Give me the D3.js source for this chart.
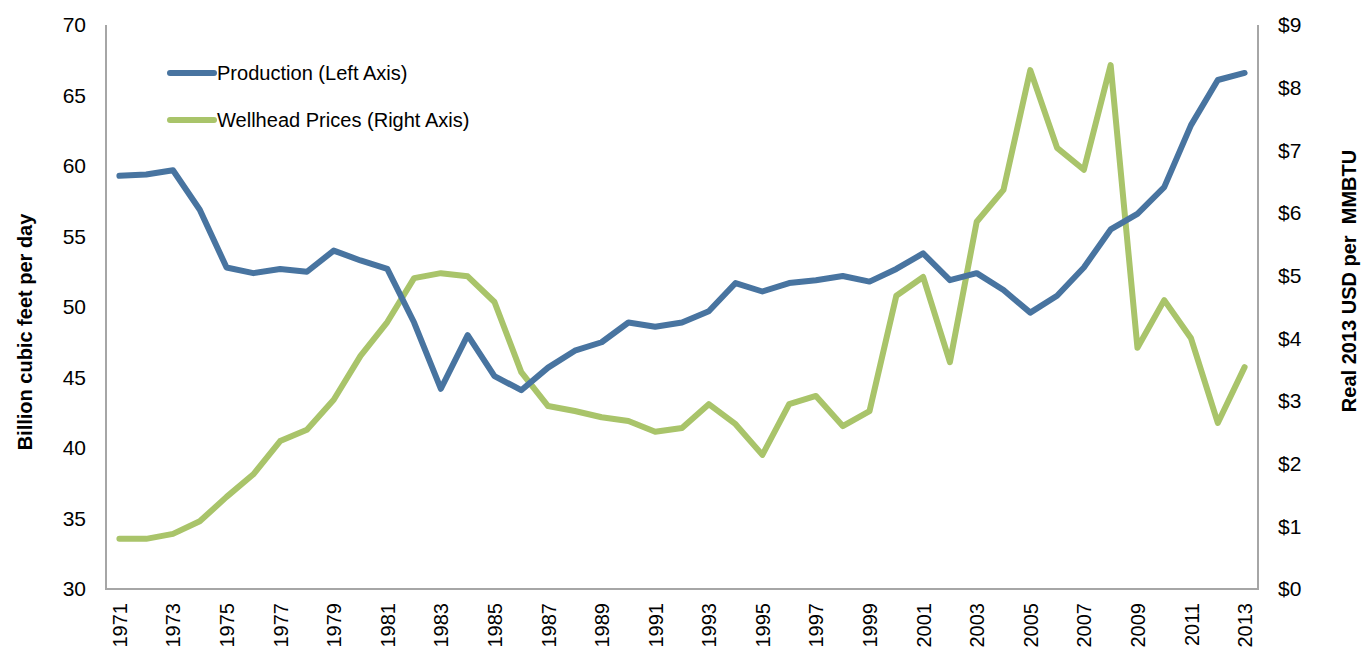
<!DOCTYPE html>
<html>
<head>
<meta charset="utf-8">
<script src="https://cdn.jsdelivr.net/npm/d3@7"></script>
<style>
  body { margin: 0; background: #fff; }
  text { font-family: "Liberation Sans Narrow", "Arial Narrow", "Liberation Sans", Arial, sans-serif; fill: #000; }
</style>
</head>
<body>
<svg id="chart"></svg>
<script>
var years = d3.range(1971, 2014);

var production = [59.3, 59.4, 59.7, 56.9, 52.8, 52.4, 52.7, 52.5, 54.0, 53.3,
                  52.7, 48.9, 44.2, 48.0, 45.1, 44.1, 45.7, 46.9, 47.5, 48.9,
                  48.6, 48.9, 49.7, 51.7, 51.1, 51.7, 51.9, 52.2, 51.8, 52.7,
                  53.8, 51.9, 52.4, 51.2, 49.6, 50.8, 52.8, 55.5, 56.6, 58.5,
                  62.9, 66.1, 66.6];

var prices = [0.80, 0.80, 0.88, 1.08, 1.47, 1.83, 2.36, 2.54, 3.02, 3.72,
              4.26, 4.96, 5.04, 4.99, 4.58, 3.46, 2.92, 2.84, 2.74, 2.68,
              2.51, 2.57, 2.95, 2.63, 2.14, 2.95, 3.08, 2.60, 2.84, 4.68,
              4.98, 3.62, 5.86, 6.37, 8.28, 7.04, 6.69, 8.36, 3.85, 4.61,
              4.00, 2.65, 3.54];

var leftTicks = [30, 35, 40, 45, 50, 55, 60, 65, 70];
var rightTicks = [0, 1, 2, 3, 4, 5, 6, 7, 8, 9];
var yearLabels = years.filter(function(d){ return (d - 1971) % 2 === 0; });

var seriesNames = ['Production (Left Axis)', 'Wellhead Prices (Right Axis)'];
var colors = ['#4874a0', '#a9c46a'];

var width = 1369, height = 648;
var margin = {left: 106, right: 111, top: 25, bottom: 59};
var plotW = width - margin.left - margin.right,
    plotH = height - margin.top - margin.bottom;

var svg = d3.select('#chart')
    .attr('width', width)
    .attr('height', height);

var g = svg.append('g')
    .attr('transform', 'translate(' + margin.left + ',' + margin.top + ')');

var x = d3.scalePoint()
    .domain(years)
    .range([0, plotW])
    .padding(0.5);

var yLeft = d3.scaleLinear().domain([30, 70]).range([plotH, 0]);
var yRight = d3.scaleLinear().domain([0, 9]).range([plotH, 0]);

// axes frame (left, bottom, right) in grey
g.append('path')
    .attr('d', 'M0,0V' + plotH + 'H' + plotW + 'V0')
    .attr('fill', 'none')
    .attr('stroke', '#a6a6a6')
    .attr('stroke-width', 2);

var leftAxis = g.append('g')
    .call(d3.axisLeft(yLeft).tickValues(leftTicks).tickSize(0).tickPadding(20));
leftAxis.select('.domain').remove();
leftAxis.selectAll('text').style('font-size', '21px');

var rightAxis = g.append('g')
    .attr('transform', 'translate(' + plotW + ',0)')
    .call(d3.axisRight(yRight).tickValues(rightTicks).tickSize(0).tickPadding(20)
        .tickFormat(function(d){ return '$' + d; }));
rightAxis.select('.domain').remove();
rightAxis.selectAll('text').style('font-size', '21px');

var bottomAxis = g.append('g')
    .attr('transform', 'translate(0,' + plotH + ')')
    .call(d3.axisBottom(x).tickValues(yearLabels).tickSize(0).tickPadding(0));
bottomAxis.select('.domain').remove();
bottomAxis.selectAll('text')
    .style('font-size', '20px')
    .attr('text-anchor', 'end')
    .attr('transform', 'rotate(-90)')
    .attr('x', -14)
    .attr('y', 0)
    .attr('dy', '0.35em');

// axis titles
svg.append('text')
    .attr('transform', 'translate(32,332) rotate(-90)')
    .attr('text-anchor', 'middle')
    .style('font-size', '20px')
    .style('font-weight', 'bold')
    .text('Billion cubic feet per day');

svg.append('text')
    .attr('transform', 'translate(1356,' + (margin.top + plotH / 2 - 26) + ') rotate(-90)')
    .attr('text-anchor', 'middle')
    .style('font-size', '20px')
    .style('font-weight', 'bold')
    .style('white-space', 'pre')
    .text('Real 2013 USD per  MMBTU');

// lines
var prodLine = d3.line()
    .x(function(d, i){ return x(years[i]); })
    .y(function(d){ return yLeft(d); });

var priceLine = d3.line()
    .x(function(d, i){ return x(years[i]); })
    .y(function(d){ return yRight(d); });

g.append('path')
    .datum(prices)
    .attr('d', priceLine)
    .attr('fill', 'none')
    .attr('stroke', colors[1])
    .attr('stroke-width', 6)
    .attr('stroke-linejoin', 'round')
    .attr('stroke-linecap', 'round');

g.append('path')
    .datum(production)
    .attr('d', prodLine)
    .attr('fill', 'none')
    .attr('stroke', colors[0])
    .attr('stroke-width', 6)
    .attr('stroke-linejoin', 'round')
    .attr('stroke-linecap', 'round');

// legend
var legend = svg.append('g').attr('transform', 'translate(170,73)');
var item = legend.selectAll('g')
    .data(seriesNames)
    .enter().append('g')
    .attr('transform', function(d, i){ return 'translate(0,' + (i * 47) + ')'; });

item.append('line')
    .attr('x1', 0).attr('x2', 44)
    .attr('stroke', function(d, i){ return colors[i]; })
    .attr('stroke-width', 6)
    .attr('stroke-linecap', 'round');

item.append('text')
    .attr('transform', 'translate(47,0) scale(0.955,1)')
    .attr('dy', '0.35em')
    .style('font-size', '21px')
    .text(function(d){ return d; });
</script>
</body>
</html>
